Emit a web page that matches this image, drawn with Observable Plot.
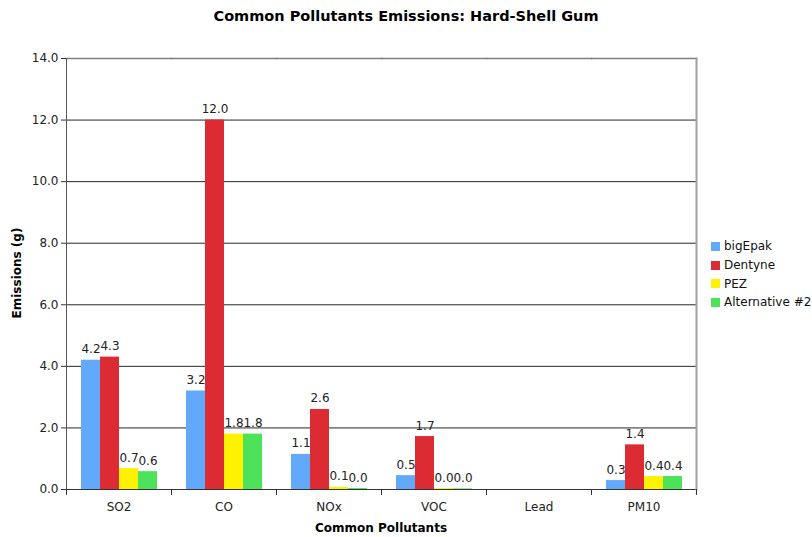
<!DOCTYPE html>
<html>
<head>
<meta charset="utf-8">
<script src="https://cdn.jsdelivr.net/npm/d3@7"></script>
<script src="https://cdn.jsdelivr.net/npm/@observablehq/plot@0.6"></script>
<style>
  body { margin: 0; background: #fff; font-family: "DejaVu Sans", Verdana, sans-serif; }
  #wrap { position: relative; width: 812px; height: 537px; }
  #title { position: absolute; left: 0; width: 812px; top: 8px; text-align: center; font-weight: bold; font-size: 14.5px; color: #000; }
  #legend { position: absolute; left: 711px; top: 237px; font-size: 12px; color: #111; }
  #legend div { display: flex; align-items: center; height: 18.7px; white-space: nowrap; }
  #legend span.sw { display: inline-block; width: 9px; height: 9px; margin-right: 4px; }
  #ytitle { position: absolute; left: 17px; top: 273px; transform: translate(-50%, -50%) rotate(-90deg); font-weight: bold; font-size: 12px; white-space: nowrap; }
  #xtitle { position: absolute; left: 64px; width: 634px; top: 521px; text-align: center; font-weight: bold; font-size: 12px; }
</style>
</head>
<body>
<div id="wrap">
  <div id="chart"></div>
  <div id="title">Common Pollutants Emissions: Hard-Shell Gum</div>
  <div id="ytitle">Emissions (g)</div>
  <div id="xtitle">Common Pollutants</div>
  <div id="legend"></div>
</div>
<script>
const categories = ["SO2", "CO", "NOx", "VOC", "Lead", "PM10"];
const seriesNames = ["bigEpak", "Dentyne", "PEZ", "Alternative #2"];
const bigEpak   = [4.2, 3.2, 1.14, 0.45, null, 0.29];
const dentyne   = [4.3, 12.0, 2.6, 1.72, null, 1.45];
const pez       = [0.68, 1.8, 0.07, 0.03, null, 0.42];
const alt2      = [0.58, 1.8, 0.03, 0.02, null, 0.42];
const colors = ["#63a9fb", "#dc2b33", "#fff200", "#4ce35a"];
const yTicks = [0, 2, 4, 6, 8, 10, 12, 14];
const gridTicks = [2, 4, 6, 8, 10, 12];

const seriesValues = [bigEpak, dentyne, pez, alt2];
const table = [];
categories.forEach((c, i) => {
  seriesNames.forEach((s, j) => {
    table.push({category: c, series: s, value: seriesValues[j][i]});
  });
});
const present = table.filter(d => d.value != null);

const axisColor = "#333";
const tickShape = { draw(context, l) { context.moveTo(0, 0); context.lineTo(0, -l); } };
const plot = Plot.plot({
  width: 812,
  height: 537,
  marginTop: 58,
  marginBottom: 48,
  marginLeft: 64,
  marginRight: 114,
  style: { fontFamily: "DejaVu Sans, Verdana, sans-serif", fontSize: "12px", color: "#222" },
  fx: { domain: categories, padding: 0, label: null },
  x: { domain: seriesNames, paddingInner: 0, paddingOuter: 0.71, axis: null },
  y: { domain: [0, 14], label: null, axis: null },
  color: { domain: seriesNames, range: colors },
  marks: [
    Plot.gridY(gridTicks, { stroke: "#000", strokeOpacity: 0.85 }),
    Plot.frame({ anchor: "top", stroke: "#808080", strokeWidth: 1.5 }),
    Plot.barY(table, { fx: "category", x: "series", y: "value", fill: "series" }),
    Plot.text(present, { fx: "category", x: "series", y: "value", text: d => d.value.toFixed(1), lineAnchor: "bottom", dy: -7, fontSize: 12, fill: "#222" }),
    Plot.ruleY([0], { stroke: axisColor }),
    Plot.frame({ anchor: "left", facetAnchor: "left", stroke: "#555" }),
    Plot.frame({ anchor: "right", facetAnchor: "right", stroke: "#a0a0a0", strokeWidth: 2 }),
    Plot.axisY(yTicks, { anchor: "left", tickFormat: d => d.toFixed(1), tickSize: 5, tickPadding: 3, fontSize: 12, stroke: axisColor, label: null }),
    Plot.axisFx({ anchor: "bottom", tickSize: 0, tickPadding: 13, fontSize: 12, label: null }),
    Plot.vector([0], { frameAnchor: "bottom-left", length: 5, rotate: 180, anchor: "start", stroke: axisColor, strokeWidth: 1, shape: tickShape }),
    Plot.vector([0], { frameAnchor: "bottom-right", length: 5, rotate: 180, anchor: "start", stroke: axisColor, strokeWidth: 1, shape: tickShape })
  ]
});
document.getElementById("chart").appendChild(plot);

const legend = document.getElementById("legend");
seriesNames.forEach((s, i) => {
  const row = document.createElement("div");
  const sw = document.createElement("span");
  sw.className = "sw";
  sw.style.background = colors[i];
  row.appendChild(sw);
  row.appendChild(document.createTextNode(s));
  legend.appendChild(row);
});
</script>
</body>
</html>
